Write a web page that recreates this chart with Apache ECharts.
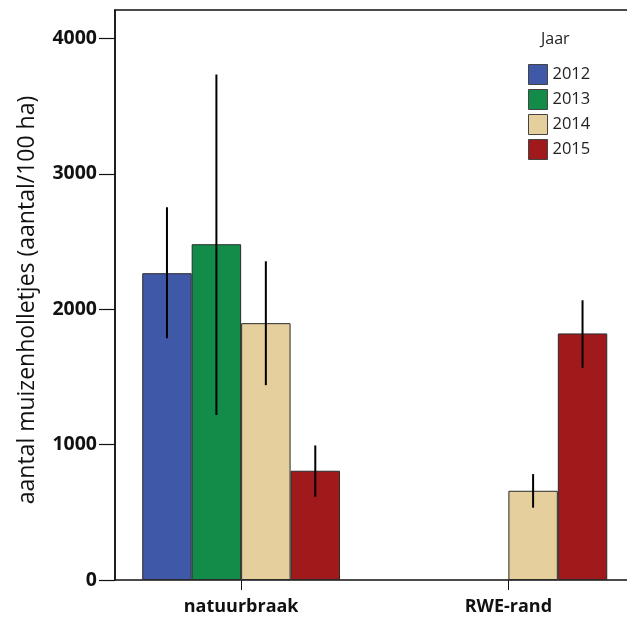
<!DOCTYPE html>
<html><head><meta charset="utf-8">
<script src="https://cdn.jsdelivr.net/npm/echarts@6/dist/echarts.min.js"></script>
<style>html,body{margin:0;padding:0;background:#fff;overflow:hidden;width:627px;height:620px}#c{width:642px;height:620px}</style>
</head><body><div id="c"></div>
<script>
const categories = ['natuurbraak', 'RWE-rand'];
const years = ['2012', '2013', '2014', '2015'];
const values = {
  '2012': [2266, null],
  '2013': [2480, null],
  '2014': [1897, 659],
  '2015': [807, 1821]
};
const errLow = {
  '2012': [1786, null],
  '2013': [1218, null],
  '2014': [1439, 534],
  '2015': [615, 1567]
};
const errHigh = {
  '2012': [2753, null],
  '2013': [3734, null],
  '2014': [2354, 782],
  '2015': [994, 2066]
};
const yTicks = [0, 1000, 2000, 3000, 4000];
const colors = ['#3f58a8', '#128c48', '#e4cf9d', '#a11a1b'];
const FONT = 'Open Sans';
const GAP = 0.26;

const chart = echarts.init(document.getElementById('c'));
const series = [];
years.forEach((y, i) => {
  series.push({
    type: 'bar', name: y, xAxisIndex: 0, yAxisIndex: 0,
    data: values[y], barGap: '0%', barCategoryGap: (GAP * 100) + '%',
    itemStyle: { color: colors[i], borderColor: '#2a2a2a', borderWidth: 1 },
    emphasis: { disabled: true }, z: 2
  });
});
years.forEach((y, i) => {
  const data = [];
  categories.forEach((c, ci) => {
    if (errLow[y][ci] != null) data.push([ci, errLow[y][ci], errHigh[y][ci]]);
  });
  series.push({
    type: 'custom', name: 'err' + y, xAxisIndex: 0, yAxisIndex: 0, z: 5,
    data: data, encode: { x: 0, y: [1, 2] },
    renderItem: function (params, api) {
      const lo = api.coord([api.value(0), api.value(1)]);
      const hi = api.coord([api.value(0), api.value(2)]);
      const band = api.size([1, 0])[0];
      const bw = band * (1 - GAP) / years.length;
      const x = lo[0] + (i - (years.length - 1) / 2) * bw;
      return { type: 'line', shape: { x1: x, y1: lo[1], x2: x, y2: hi[1] },
        style: { stroke: '#000', lineWidth: 2 } };
    }
  });
});

chart.setOption({
  animation: false,
  title: { text: 'Jaar', left: 541, top: 31, padding: 0, textStyle: { fontFamily: FONT, fontSize: 16, fontWeight: 'normal', color: '#222' } },
  legend: {
    data: years, orient: 'vertical', left: 528, top: 64, padding: 0, itemWidth: 19, itemHeight: 20, itemGap: 4,
    icon: 'rect', textStyle: { fontFamily: FONT, fontSize: 16.5, color: '#222' },
    itemStyle: { borderColor: '#444', borderWidth: 1 }
  },
  grid: [
    { left: 107.5, right: 0, top: 10, bottom: 40 },
    { left: 115, right: 0, top: 10, bottom: 40, show: true, borderColor: '#111', borderWidth: 1.5, backgroundColor: 'transparent' }
  ],
  xAxis: [
    { type: 'category', gridIndex: 0, data: categories,
      axisLine: { show: false },
      axisTick: { show: true, alignWithLabel: true, length: 10, lineStyle: { color: '#111', width: 1 } },
      axisLabel: { fontFamily: FONT, fontSize: 18, fontWeight: 'bold', color: '#111', margin: 18 } },
    { type: 'value', gridIndex: 1, show: false, min: 0, max: 1 }
  ],
  yAxis: [
    { type: 'value', gridIndex: 0, min: 0, max: 4210, show: false },
    { type: 'value', gridIndex: 1, min: 0, max: 4210, interval: 1000,
      axisLine: { show: true, lineStyle: { color: '#111', width: 1.5 } },
      axisTick: { show: true, length: 16, lineStyle: { color: '#111', width: 1.2 } },
      axisLabel: { fontFamily: FONT, fontSize: 19.5, fontWeight: 'bold', color: '#111', margin: 18, showMaxLabel: false,
        formatter: v => yTicks.includes(v) ? String(v) : '' },
      splitLine: { show: false },
      name: 'aantal muizenholletjes (aantal/100 ha)', nameLocation: 'middle', nameGap: 76,
      nameTextStyle: { fontFamily: FONT, fontSize: 23, color: '#111', padding: [0, 10, 0, 0] } }
  ],
  series: series
});
</script></body></html>
